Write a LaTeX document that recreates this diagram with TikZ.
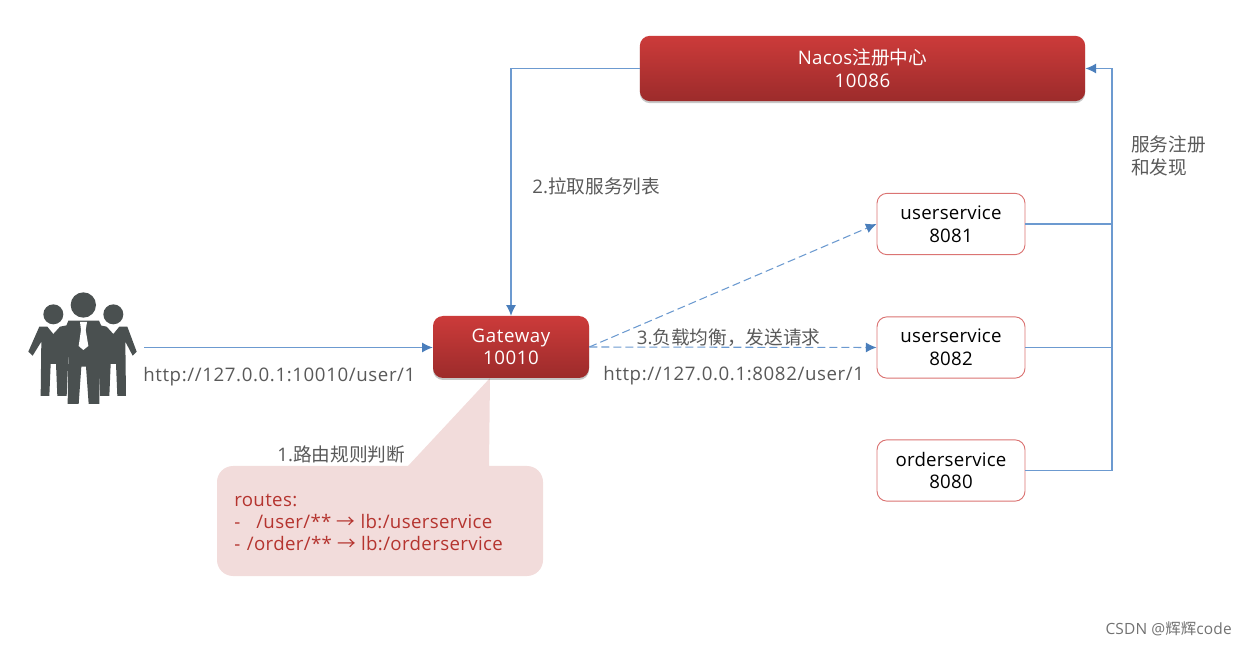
\documentclass[tikz,border=0pt]{standalone}
\usepackage{fontspec}
\setmainfont{Open Sans}[LetterSpace=1.2]
\newfontfamily\widelatin{Open Sans}[LetterSpace=3.3]
\newfontfamily\calllatin{Open Sans}[LetterSpace=1.9]
\newfontfamily\cjk{Noto Sans CJK SC}
\usetikzlibrary{arrows.meta,shadows}
\definecolor{lineblue}{HTML}{6C9AD0}
\definecolor{tipblue}{HTML}{4A7EBB}
\definecolor{txtgray}{HTML}{595959}
\definecolor{redtop}{HTML}{CC3B3A}
\definecolor{redbot}{HTML}{9C2B2B}
\definecolor{svcedge}{HTML}{DB7473}
\definecolor{callfill}{HTML}{F2DCDB}
\definecolor{calltext}{HTML}{B5342F}
\definecolor{iconcol}{HTML}{4A5050}
\tikzset{
  redbox/.style={rounded corners=7.5pt,top color=redtop,bottom color=redbot,draw=none,text=white,align=center,inner sep=0pt,
    font=\fontsize{14pt}{17pt}\selectfont,
    drop shadow={shadow xshift=0pt,shadow yshift=-1.5pt,opacity=.22,fill=black}},
  svcbox/.style={rounded corners=7.5pt,draw=svcedge,line width=.7pt,fill=white,text=black,align=center,inner sep=0pt,
    minimum width=111pt,minimum height=46pt,font=\fontsize{14pt}{17pt}\selectfont},
  conn/.style={draw=lineblue,line width=.8pt,-{Latex[length=8pt,width=7.5pt,color=tipblue]}},
  plainconn/.style={draw=lineblue,line width=.8pt},
  dashconn/.style={conn,dashed,dash pattern=on 6pt off 3pt},
  lbl/.style={text=txtgray,inner sep=0pt,align=left,font=\fontsize{14pt}{17pt}\selectfont},
  calltxt/.style={text=calltext,inner sep=0pt,align=left,font=\calllatin\fontsize{14pt}{16.5pt}\selectfont},
}
\begin{document}
\begin{tikzpicture}[x=0.75pt,y=-0.75pt]
\useasboundingbox (0,0) rectangle (1247,645);
% callout
\fill[callfill] (408,466) -- (490,378) -- (489,466) -- (527,466)
  arc[start angle=90,end angle=0,x radius=16,y radius=-16]
  -- (543,560) arc[start angle=0,end angle=-90,x radius=16,y radius=-16]
  -- (233,576) arc[start angle=-90,end angle=-180,x radius=16,y radius=-16]
  -- (217,482) arc[start angle=180,end angle=90,x radius=16,y radius=-16] -- cycle;
% boxes
\node[redbox,minimum width=334pt,minimum height=49pt] (nacos) at (862.5,68.5) {Nacos{\cjk 注册中心}\\{\widelatin 10086}};
\node[redbox,minimum width=117pt,minimum height=46.5pt] (gw) at (511,347) {{\widelatin Gateway}\\{\widelatin 10010}};
\node[svcbox] (u1) at (951,224) {userservice\\8081};
\node[svcbox] (u2) at (951,347.5) {userservice\\8082};
\node[svcbox] (o1) at (951,470.5) {orderservice\\8080};
% icon
\begin{scope}[shift={(0,270)},x=0.25pt,y=-0.25pt]
\fill[iconcol] (160,133) circle[radius=30];
\fill[iconcol] (340,133) circle[radius=30];
\fill[iconcol] (118,170) -- (142,170) -- (160,192) -- (180,170) -- (205,165) -- (205,262) -- (200,378) -- (172,378) -- (168,282) -- (152,282) -- (148,378) -- (122,378) -- (124,215) -- (98,257) -- (85,245) -- cycle;
\fill[iconcol] (382,170) -- (358,170) -- (340,192) -- (320,170) -- (295,165) -- (295,262) -- (300,378) -- (328,378) -- (332,282) -- (348,282) -- (352,378) -- (378,378) -- (376,215) -- (398,257) -- (410,245) -- cycle;
\fill[iconcol] (250,105) circle[radius=38];
\fill[iconcol] (205,152) -- (297,152) -- (305,170) -- (298,265) -- (298,402) -- (266,402) -- (258,290) -- (244,290) -- (236,402) -- (203,402) -- (205,265) -- (198,170) -- cycle;
\fill[white] (240,156) -- (261,156) -- (257,180) -- (265,228) -- (250,240) -- (236,228) -- (243,180) -- cycle;
\end{scope}
% connectors
\coordinate (src) at (144,347.5);
\coordinate (busa) at (1112,224);
\draw[conn] (src) -- (gw.west |- src);
\draw[conn] (nacos.west) -| (gw.north);
\draw[dashconn] (gw.east) -- (u1.west);
\draw[dashconn] (gw.east) -- (u2.west);
\draw[plainconn] (u1.east) -- (busa);
\draw[plainconn] (u2.east) -- (busa |- u2.east);
\draw[plainconn] (o1.east) -| (busa);
\draw[conn] (busa) |- (nacos.east);
% labels
\node[lbl,anchor=west] (l1) at (143,376.5) {\widelatin http://127.0.0.1:10010/user/1};
\node[lbl,anchor=west] (l2) at (532,186) {2.{\cjk 拉取服务列表}};
\node[lbl,anchor=west] (l3) at (636.5,338) {3.{\cjk 负载均衡，发送请求}};
\node[lbl,anchor=west] (l4) at (603,375.5) {\widelatin http://127.0.0.1:8082/user/1};
\node[lbl,anchor=west] (l5) at (277,454) {1.{\cjk 路由规则判断}};
\node[lbl,anchor=west] (l6) at (1131,156) {{\cjk 服务注册}\\{\cjk 和发现}};
\node[calltxt,anchor=west] (c1) at (234,522) {routes:\\-\hspace{12pt}/user/** {\cjk →} lb:/userservice\\- \hspace{1pt}/order/** {\cjk →} lb:/orderservice};
\node[text=txtgray!85,inner sep=0pt,anchor=east,font=\fontsize{11.6pt}{13pt}\selectfont] (wm) at (1232,629) {CSDN @{\cjk 辉辉}code};
\end{tikzpicture}
\end{document}
